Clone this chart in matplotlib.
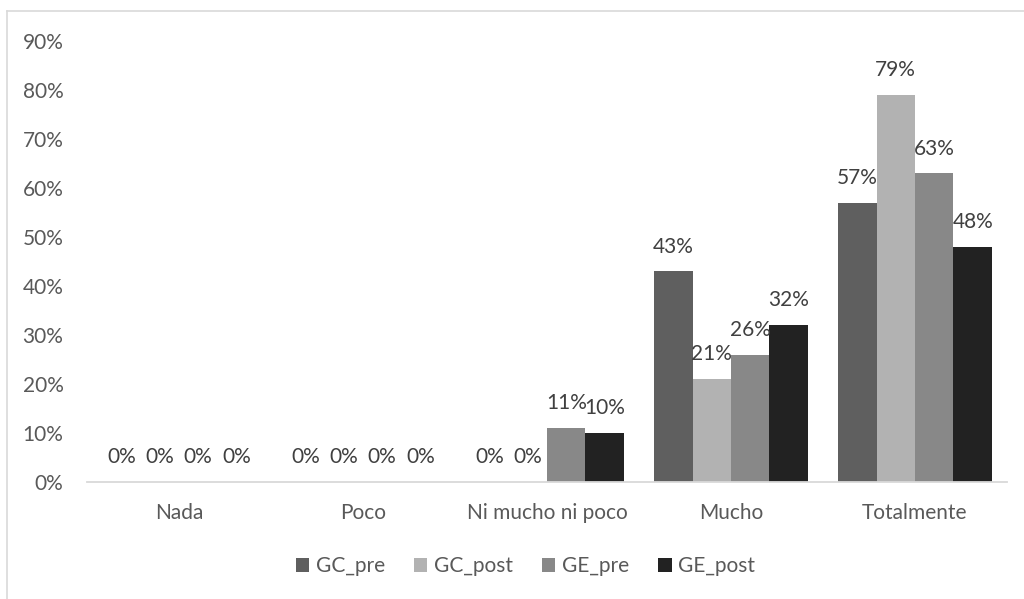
import matplotlib
matplotlib.use("Agg")
import matplotlib.pyplot as plt
import numpy as np
from matplotlib.lines import Line2D

categories = ["Nada", "Poco", "Ni mucho ni poco", "Mucho", "Totalmente"]
series_names = ["GC_pre", "GC_post", "GE_pre", "GE_post"]
gc_pre = [0, 0, 0, 43, 57]
gc_post = [0, 0, 0, 21, 79]
ge_pre = [0, 0, 11, 26, 63]
ge_post = [0, 0, 10, 32, 48]
yticks = [0, 10, 20, 30, 40, 50, 60, 70, 80, 90]

colors = ["#5f5f5f", "#b2b2b2", "#888888", "#222222"]
text_color = "#595959"
plt.rcParams['font.family'] = ['Lato', 'DejaVu Sans']
fs = 15

fig = plt.figure(figsize=(10.24, 5.99), dpi=100)
ax = fig.add_axes([87/1024, 0.1953, 920/1024, 0.7363])

data = [gc_pre, gc_post, ge_pre, ge_post]
x = np.arange(len(categories))
bw = 0.209
for i, (vals, name, c) in enumerate(zip(data, series_names, colors)):
    pos = x + (i - 1.5) * bw
    ax.bar(pos, vals, width=bw, color=c, label=name, zorder=2)
    for p, v in zip(pos, vals):
        ax.annotate(f"{v}%", (p, v), xytext=(0, 13.5), textcoords="offset points",
                    ha="center", va="baseline", fontsize=fs, color="#404040")

ax.set_xlim(-0.5, len(categories) - 0.5)
ax.set_ylim(0, 90)
ax.set_yticks(yticks)
ax.set_yticklabels([f"{t}%" for t in yticks])
ax.set_xticks(x)
ax.set_xticklabels(categories)
ax.tick_params(axis="both", length=0, labelsize=fs, labelcolor=text_color)
ax.tick_params(axis="y", pad=17)
ax.tick_params(axis="x", pad=15)
for s in ["top", "right", "left"]:
    ax.spines[s].set_visible(False)
ax.spines["bottom"].set_color("#d9d9d9")
ax.spines["bottom"].set_linewidth(1.3)

leg = fig.legend(loc="center", bbox_to_anchor=(0.513, 0.055), ncol=4, frameon=False,
                 fontsize=fs, handlelength=0.65, handleheight=0.65, handletextpad=0.3,
                 columnspacing=1.4)
for t in leg.get_texts():
    t.set_color(text_color)

# chart border (top and left visible)
fig.add_artist(Line2D([7/1024, 1.0], [1 - 11/599, 1 - 11/599], color="#d9d9d9", lw=1.2, transform=fig.transFigure))
fig.add_artist(Line2D([7/1024, 7/1024], [0.0, 1 - 11/599], color="#d9d9d9", lw=1.2, transform=fig.transFigure))

fig.savefig("out.png", dpi=100)
